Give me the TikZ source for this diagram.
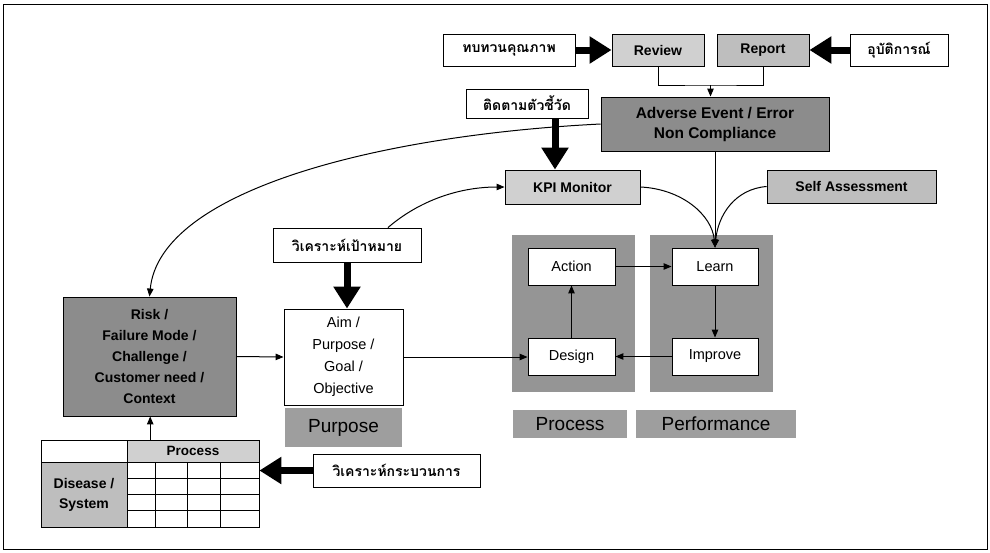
\documentclass[tikz,border=0pt]{standalone}
\usepackage{fontspec}
\setmainfont{Liberation Sans}
\newfontfamily\thai[Script=Thai]{Loma}
\usetikzlibrary{arrows.meta}
\definecolor{lightg}{HTML}{D0D0D0}
\definecolor{midg}{HTML}{BEBEBE}
\definecolor{darkg}{HTML}{8C8C8C}
\definecolor{panelg}{HTML}{959595}
\definecolor{labelg}{HTML}{9E9E9E}
\tikzset{
  box/.style={draw=black, line width=0.9pt, inner sep=0pt, align=center},
  thaibox/.style={box, fill=white, font=\thai\bfseries\fontsize{14}{17}\selectfont},
  boldbox/.style={box, font=\bfseries\fontsize{14}{21}\selectfont},
  plainbox/.style={box, fill=white, font=\fontsize{14.5}{22}\selectfont},
  labelbox/.style={fill=labelg, inner sep=0pt, align=center, font=\fontsize{19}{22}\selectfont},
  panel/.style={fill=panelg, inner sep=0pt},
  bigarrow/.style={line width=7pt, -{Triangle[length=22pt,width=26pt]}},
  thinarrow/.style={line width=1pt, -{Triangle[length=8pt,width=6.5pt]}},
  thinline/.style={line width=1pt},
}
\begin{document}
\begin{tikzpicture}[x=1pt,y=-1pt]
\useasboundingbox (0,0) rectangle (990,552);
\draw[line width=1pt] (3,4) rectangle (987,549);

% panels
\node[panel, minimum width=123pt, minimum height=157pt] (procpanel) at (573.5,313.5) {};
\node[panel, minimum width=123pt, minimum height=157pt] (perfpanel) at (711.5,313.5) {};

% top row
\node[thaibox, minimum width=132pt, minimum height=32pt] (qual) at (509,50) {ทบทวนคุณภาพ};
\node[boldbox, fill=lightg, minimum width=92pt, minimum height=32pt] (rev) at (658,50) {Review};
\node[boldbox, fill=midg, minimum width=92pt, minimum height=32pt] (rep) at (763,50) {Report};
\node[thaibox, minimum width=98pt, minimum height=32pt] (inc) at (899,50) {อุบัติการณ์};

\node[box, fill=darkg, font=\bfseries\fontsize{15.5}{20}\selectfont, minimum width=228pt, minimum height=54pt] (adv) at (715,124) {Adverse Event / Error\\Non Compliance};
\node[thaibox, minimum width=122pt, minimum height=29pt] (kpit) at (527,103.5) {ติดตามตัวชี้วัด};
\node[boldbox, fill=lightg, minimum width=135pt, minimum height=34pt] (kpi) at (572.5,187) {KPI Monitor};
\node[boldbox, fill=midg, minimum width=169pt, minimum height=33pt] (self) at (851.5,186.5) {Self Assessment};

\node[thaibox, minimum width=148pt, minimum height=34pt] (goal) at (347,245) {วิเคราะห์เป้าหมาย};
\node[plainbox, minimum width=119pt, minimum height=96pt] (aim) at (343.5,357) {Aim /\\Purpose /\\Goal /\\Objective};
\node[labelbox, minimum width=117pt, minimum height=39pt] (purpose) at (343.5,427.5) {Purpose};

\node[boldbox, fill=darkg, minimum width=173pt, minimum height=119pt] (risk) at (149.5,356.5) {Risk /\\Failure Mode /\\Challenge /\\Customer need /\\Context};

% cycle
\node[plainbox, minimum width=87pt, minimum height=37pt] (action) at (571.5,266.5) {Action};
\node[plainbox, minimum width=86pt, minimum height=37pt] (learn) at (715,266.5) {Learn};
\node[plainbox, minimum width=87pt, minimum height=37pt] (design) at (571.5,356.5) {Design};
\node[plainbox, minimum width=86pt, minimum height=37pt] (improve) at (715,356.5) {Improve};
\node[labelbox, minimum width=114pt, minimum height=28pt] (proclabel) at (570,424) {Process};
\node[labelbox, minimum width=160pt, minimum height=28pt] (perflabel) at (716,424) {Performance};

% table
\node[minimum width=218pt, minimum height=87pt, inner sep=0pt, anchor=north west] (table) at (41,440) {};
\fill[lightg] (127,440) rectangle (259,462);
\fill[midg] (41,462) rectangle (127,527);
\draw[line width=0.9pt] (41,440) rectangle (259,527);
\draw[line width=0.8pt] (127,440) -- (127,527) (41,462) -- (259,462);
\foreach \gx in {155,187,220} \draw[line width=0.8pt] (\gx,462) -- (\gx,527);
\foreach \gy in {478,494,510} \draw[line width=0.8pt] (127,\gy) -- (259,\gy);
\node[font=\bfseries\fontsize{13.5}{16}\selectfont] (tproc) at (193,451) {Process};
\node[font=\bfseries\fontsize{14}{20}\selectfont, align=center] (tdis) at (84,494.5) {Disease /\\System};

\node[thaibox, minimum width=167pt, minimum height=33pt] (procan) at (396.5,470.5) {วิเคราะห์กระบวนการ};

% thick arrows
\draw[bigarrow] (qual.east) -- (rev.west);
\draw[bigarrow] (inc.west) -- (rep.east);
\draw[bigarrow] ([xshift=28pt]kpit.south) -- ([xshift=28pt]kpit.south |- kpi.north);
\draw[bigarrow] (goal.south) -- (goal.south |- aim.north);
\draw[bigarrow] (procan.west) -- (procan.west -| table.east);

% thin connectors
\coordinate (j) at (710.5,85);
\draw[thinline] (rev.south) |- (j) -| (rep.south);
\draw[thinarrow] (j) -- (j |- adv.north);
\draw[thinarrow] (adv.south -| learn.north) -- (learn.north);
\draw[thinarrow] (kpi.east) .. controls (682,189) and (712,215) .. (learn.north);
\draw[thinarrow] (self.west) .. controls (735,189) and (718,215) .. (learn.north);
\draw[thinarrow] (adv.west) .. controls (380,135) and (160,190) .. (risk.north);
\draw[thinarrow] ([xshift=41pt]goal.north) .. controls (420,200) and (460,187) .. (kpi.west);
\draw[thinarrow] (risk.east) -- (aim.west);
\draw[thinarrow] (aim.east) -- (aim.east -| design.west);
\draw[thinarrow] (action.east) -- (learn.west);
\draw[thinarrow] (learn.south) -- (improve.north);
\draw[thinarrow] (improve.west) -- (design.east);
\draw[thinarrow] (design.north) -- (action.south);
\draw[thinarrow] (table.north) -- (table.north |- risk.south);
\end{tikzpicture}
\end{document}
